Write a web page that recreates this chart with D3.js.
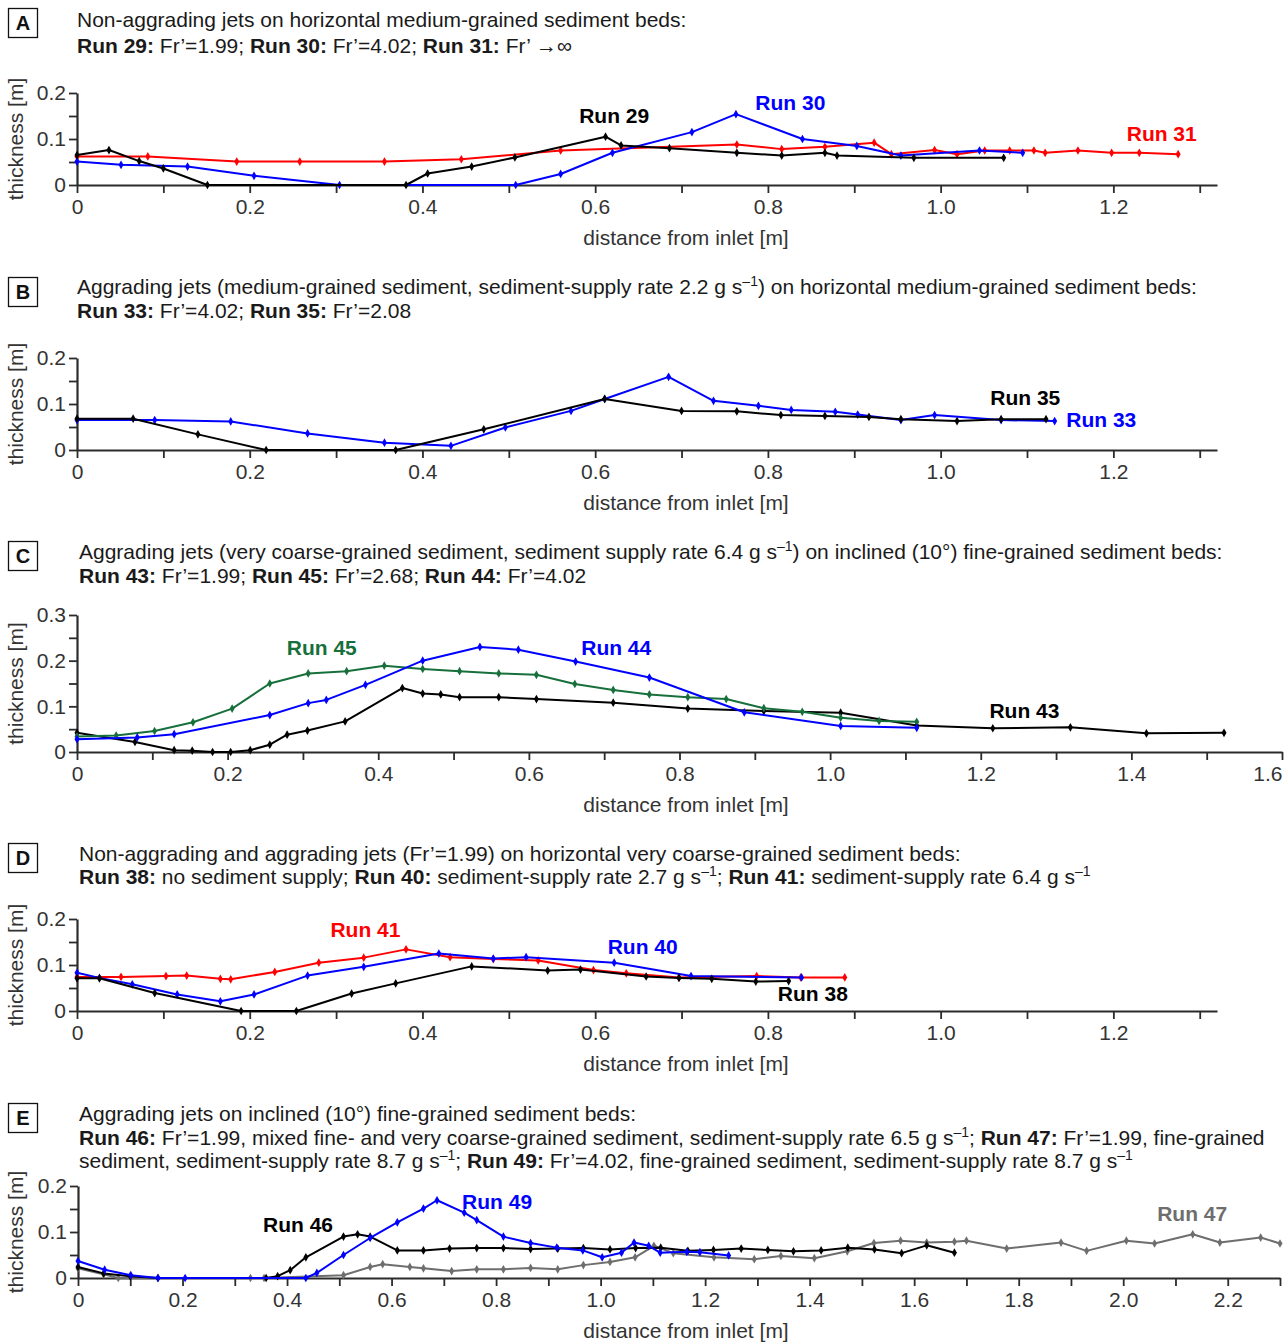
<!DOCTYPE html>
<html>
<head>
<meta charset="utf-8">
<script src="https://cdnjs.cloudflare.com/ajax/libs/d3/7.8.5/d3.min.js"></script>
<style>
  body { margin: 0; background: #fff; }
  svg { display: block; font-family: "Liberation Sans", Arial, sans-serif; }
</style>
</head>
<body>
<div id="chart"></div>
<script>
// ---- data: [distance from inlet (m), thickness (m)] ----
// panel A
const run29 = [[0,0.065],[0.037,0.076],[0.072,0.052],[0.1,0.036],[0.151,0],[0.381,0],[0.406,0.025],[0.457,0.04],[0.507,0.06],[0.612,0.105],[0.63,0.086],[0.686,0.08],[0.764,0.07],[0.816,0.064],[0.866,0.07],[0.88,0.064],[0.969,0.059],[1.073,0.059]];
const run30 = [[0,0.051],[0.051,0.044],[0.128,0.04],[0.205,0.02],[0.304,0],[0.508,0],[0.56,0.024],[0.62,0.07],[0.712,0.115],[0.763,0.154],[0.84,0.1],[0.903,0.085],[0.954,0.064],[1.045,0.075],[1.095,0.07]];
const run31 = [[0,0.062],[0.082,0.062],[0.185,0.051],[0.258,0.051],[0.356,0.051],[0.445,0.056],[0.56,0.075],[0.764,0.088],[0.816,0.078],[0.866,0.083],[0.923,0.092],[0.943,0.067],[0.993,0.076],[1.019,0.067],[1.051,0.075],[1.08,0.075],[1.108,0.075],[1.121,0.07],[1.159,0.075],[1.198,0.07],[1.23,0.07],[1.275,0.067]];
// panel B
const run33 = [[0,0.065],[0.09,0.065],[0.178,0.062],[0.267,0.036],[0.356,0.016],[0.433,0.009],[0.496,0.049],[0.572,0.085],[0.611,0.111],[0.685,0.159],[0.737,0.107],[0.789,0.096],[0.827,0.087],[0.878,0.083],[0.904,0.077],[0.954,0.065],[0.993,0.076],[1.07,0.065],[1.132,0.063]];
const run35 = [[0,0.068],[0.065,0.068],[0.14,0.034],[0.219,0],[0.369,0],[0.471,0.045],[0.611,0.111],[0.7,0.085],[0.764,0.084],[0.815,0.076],[0.866,0.074],[0.917,0.072],[0.954,0.067],[1.019,0.063],[1.07,0.067],[1.122,0.067]];
// panel C
const run43 = [[0,0.042],[0.077,0.022],[0.129,0.004],[0.153,0.003],[0.18,0],[0.204,0],[0.23,0.004],[0.256,0.016],[0.279,0.038],[0.306,0.047],[0.356,0.067],[0.432,0.14],[0.459,0.128],[0.483,0.126],[0.508,0.12],[0.56,0.12],[0.61,0.116],[0.712,0.108],[0.811,0.095],[0.912,0.09],[1.014,0.086],[1.115,0.058],[1.216,0.052],[1.319,0.054],[1.42,0.041],[1.523,0.042]];
const run44 = [[0,0.028],[0.08,0.032],[0.129,0.039],[0.256,0.081],[0.307,0.107],[0.331,0.114],[0.383,0.147],[0.459,0.2],[0.535,0.23],[0.586,0.224],[0.662,0.198],[0.76,0.163],[0.886,0.087],[1.014,0.057],[1.115,0.053]];
const run45 = [[0,0.034],[0.052,0.036],[0.103,0.046],[0.154,0.065],[0.206,0.095],[0.256,0.15],[0.307,0.172],[0.358,0.177],[0.408,0.189],[0.459,0.182],[0.508,0.177],[0.56,0.172],[0.61,0.169],[0.661,0.149],[0.712,0.136],[0.76,0.126],[0.811,0.12],[0.862,0.116],[0.912,0.096],[0.963,0.088],[1.014,0.075],[1.065,0.068],[1.115,0.066]];
// panel D
const run38 = [[0,0.071],[0.026,0.071],[0.09,0.039],[0.19,0],[0.254,0],[0.318,0.038],[0.369,0.06],[0.457,0.097],[0.545,0.088],[0.583,0.09],[0.659,0.075],[0.697,0.072],[0.735,0.07],[0.786,0.064],[0.824,0.065]];
const run40 = [[0,0.083],[0.026,0.072],[0.064,0.058],[0.116,0.036],[0.166,0.021],[0.205,0.036],[0.267,0.077],[0.332,0.096],[0.419,0.125],[0.482,0.114],[0.52,0.117],[0.622,0.105],[0.711,0.076],[0.839,0.073]];
const run41 = [[0,0.074],[0.051,0.074],[0.103,0.076],[0.127,0.077],[0.166,0.07],[0.178,0.069],[0.229,0.085],[0.28,0.105],[0.332,0.116],[0.381,0.134],[0.432,0.117],[0.482,0.113],[0.534,0.11],[0.598,0.089],[0.636,0.082],[0.697,0.073],[0.787,0.076],[0.838,0.073],[0.889,0.073]];
// panel E
const run46 = [[0,0.024],[0.049,0.01],[0.1,0.004],[0.153,0],[0.36,0],[0.382,0.004],[0.406,0.017],[0.436,0.045],[0.508,0.09],[0.535,0.095],[0.559,0.09],[0.611,0.06],[0.661,0.06],[0.711,0.064],[0.763,0.065],[0.814,0.065],[0.866,0.063],[0.918,0.064],[0.967,0.065],[1.018,0.062],[1.067,0.065],[1.115,0.066],[1.167,0.059],[1.216,0.061],[1.269,0.064],[1.32,0.061],[1.369,0.058],[1.422,0.06],[1.473,0.066],[1.524,0.062],[1.576,0.054],[1.624,0.071],[1.677,0.055]];
const run47 = [[0,0.021],[0.049,0.008],[0.077,0],[0.33,0],[0.356,0],[0.508,0.006],[0.559,0.024],[0.583,0.03],[0.635,0.024],[0.661,0.021],[0.715,0.015],[0.763,0.019],[0.814,0.019],[0.866,0.022],[0.918,0.019],[0.967,0.028],[1.018,0.035],[1.066,0.045],[1.102,0.07],[1.139,0.054],[1.217,0.045],[1.294,0.041],[1.345,0.048],[1.409,0.043],[1.472,0.058],[1.523,0.076],[1.574,0.081],[1.624,0.077],[1.677,0.079],[1.7,0.081],[1.777,0.064],[1.881,0.077],[1.93,0.059],[2.006,0.081],[2.06,0.075],[2.133,0.095],[2.185,0.077],[2.263,0.088],[2.3,0.075]];
const run49 = [[0,0.037],[0.051,0.018],[0.101,0.006],[0.153,0],[0.205,0],[0.436,0],[0.457,0.011],[0.508,0.05],[0.559,0.087],[0.611,0.121],[0.661,0.151],[0.687,0.169],[0.739,0.142],[0.763,0.126],[0.814,0.09],[0.866,0.076],[0.916,0.066],[0.966,0.06],[1.003,0.045],[1.04,0.055],[1.064,0.077],[1.092,0.07],[1.114,0.055],[1.165,0.057],[1.19,0.056],[1.245,0.049]];

// colours
const BLUE = "#0000ff", RED = "#ff0000", BLACK = "#000000", GREEN = "#17703c", GREY = "#6e6e6e";

const FS = 21; // main font size

// panels: layout + which runs go where
const panels = [
  {
    letter: "A", boxY: 8, titleX: 77, titleY: [27, 53],
    lines: [
      [{ t: "Non-aggrading jets on horizontal medium-grained sediment beds:" }],
      [{ t: "Run 29:", b: 1 }, { t: " Fr’=1.99; " }, { t: "Run 30:", b: 1 }, { t: " Fr’=4.02; " }, { t: "Run 31:", b: 1 }, { t: " Fr’ →∞" }]
    ],
    left: 77, right: 1217, xMax: 1.32, xTicks: 13, bottom: 185, top: 93, yMax: 0.2,
    series: [[run31, RED], [run30, BLUE], [run29, BLACK]],
    labels: [["Run 29", BLACK, 0.622, 0.15], ["Run 30", BLUE, 0.826, 0.18], ["Run 31", RED, 1.256, 0.111]]
  },
  {
    letter: "B", boxY: 277, titleX: 77, titleY: [294, 318],
    lines: [
      [{ t: "Aggrading jets (medium-grained sediment, sediment-supply rate 2.2 g s" }, { t: "–1", sup: 1 }, { t: ") on horizontal medium-grained sediment beds:" }],
      [{ t: "Run 33:", b: 1 }, { t: " Fr’=4.02; " }, { t: "Run 35:", b: 1 }, { t: " Fr’=2.08" }]
    ],
    left: 77, right: 1217, xMax: 1.32, xTicks: 13, bottom: 450, top: 358, yMax: 0.2,
    series: [[run33, BLUE], [run35, BLACK]],
    labels: [["Run 35", BLACK, 1.098, 0.113], ["Run 33", BLUE, 1.186, 0.067]]
  },
  {
    letter: "C", boxY: 541, titleX: 79, titleY: [559, 583],
    lines: [
      [{ t: "Aggrading jets (very coarse-grained sediment, sediment supply rate 6.4 g s" }, { t: "–1", sup: 1 }, { t: ") on inclined (10°) fine-grained sediment beds:" }],
      [{ t: "Run 43:", b: 1 }, { t: " Fr’=1.99; " }, { t: "Run 45:", b: 1 }, { t: " Fr’=2.68; " }, { t: "Run 44:", b: 1 }, { t: " Fr’=4.02" }]
    ],
    left: 77, right: 1282, xMax: 1.6, xTicks: 16, bottom: 752, top: 615, yMax: 0.3,
    series: [[run43, BLACK], [run45, GREEN], [run44, BLUE]],
    labels: [["Run 45", GREEN, 0.325, 0.228], ["Run 44", BLUE, 0.716, 0.228], ["Run 43", BLACK, 1.258, 0.09]]
  },
  {
    letter: "D", boxY: 843, titleX: 79, titleY: [861, 884],
    lines: [
      [{ t: "Non-aggrading and aggrading jets (Fr’=1.99) on horizontal very coarse-grained sediment beds:" }],
      [{ t: "Run 38:", b: 1 }, { t: " no sediment supply; " }, { t: "Run 40:", b: 1 }, { t: " sediment-supply rate 2.7 g s" }, { t: "–1", sup: 1 }, { t: "; " }, { t: "Run 41:", b: 1 }, { t: " sediment-supply rate 6.4 g s" }, { t: "–1", sup: 1 }]
    ],
    left: 77, right: 1217, xMax: 1.32, xTicks: 13, bottom: 1011, top: 919, yMax: 0.2,
    series: [[run41, RED], [run40, BLUE], [run38, BLACK]],
    labels: [["Run 41", RED, 0.334, 0.176], ["Run 40", BLUE, 0.655, 0.139], ["Run 38", BLACK, 0.852, 0.037]]
  },
  {
    letter: "E", boxY: 1103, titleX: 79, titleY: [1121, 1145, 1168],
    lines: [
      [{ t: "Aggrading jets on inclined (10°) fine-grained sediment beds:" }],
      [{ t: "Run 46:", b: 1 }, { t: " Fr’=1.99, mixed fine- and very coarse-grained sediment, sediment-supply rate 6.5 g s" }, { t: "–1", sup: 1 }, { t: "; " }, { t: "Run 47:", b: 1 }, { t: " Fr’=1.99, fine-grained" }],
      [{ t: "sediment, sediment-supply rate 8.7 g s" }, { t: "–1", sup: 1 }, { t: "; " }, { t: "Run 49:", b: 1 }, { t: " Fr’=4.02, fine-grained sediment, sediment-supply rate 8.7 g s" }, { t: "–1", sup: 1 }]
    ],
    left: 78, right: 1280, xMax: 2.3, xTicks: 23, bottom: 1278, top: 1186, yMax: 0.2,
    series: [[run47, GREY], [run46, BLACK], [run49, BLUE]],
    labels: [["Run 46", BLACK, 0.421, 0.115], ["Run 49", BLUE, 0.802, 0.167], ["Run 47", GREY, 2.132, 0.139]]
  }
];

const W = 1288, H = 1344;
const svg = d3.select("#chart").append("svg").attr("width", W).attr("height", H);

function drawPanel(p) {
  const g = svg.append("g");

  // letter box
  g.append("rect").attr("x", 8.5).attr("y", p.boxY + 0.5).attr("width", 29).attr("height", 29)
    .attr("fill", "none").attr("stroke", "#111").attr("stroke-width", 1.3);
  g.append("text").attr("x", 23).attr("y", p.boxY + 22).attr("text-anchor", "middle")
    .attr("font-size", 20).attr("font-weight", "bold").attr("fill", "#111").text(p.letter);

  // title lines
  p.lines.forEach((segs, li) => {
    const t = g.append("text").attr("x", p.titleX).attr("y", p.titleY[li])
      .attr("font-size", FS).attr("fill", "#1a1a1a");
    segs.forEach(s => {
      const ts = t.append("tspan").text(s.t);
      if (s.b) ts.attr("font-weight", "bold");
      if (s.sup) ts.attr("font-size", 14).attr("baseline-shift", "super");
    });
  });

  const x = d3.scaleLinear().domain([0, p.xMax]).range([p.left, p.right]);
  const y = d3.scaleLinear().domain([0, p.yMax]).range([p.bottom, p.top]);

  // x axis: ticks every 0.1, labels every 0.2
  const xVals = d3.range(0, p.xTicks + 1).map(i => i / 10);
  const xAxis = g.append("g").attr("transform", `translate(0,${p.bottom})`)
    .call(d3.axisBottom(x).tickValues(xVals).tickSize(8).tickSizeOuter(0).tickPadding(6)
      .tickFormat((d, i) => (i % 2 ? "" : (i === 0 ? "0" : d3.format(".1f")(d)))));

  // y axis: ticks every 0.05, labels every 0.1
  const yVals = d3.range(0, Math.round(p.yMax * 20) + 1).map(i => i / 20);
  const yAxis = g.append("g").attr("transform", `translate(${p.left},0)`)
    .call(d3.axisLeft(y).tickValues(yVals).tickSize(8).tickSizeOuter(0).tickPadding(3)
      .tickFormat((d, i) => (i % 2 ? "" : (i === 0 ? "0" : d3.format(".1f")(d)))));

  [xAxis, yAxis].forEach(a => {
    a.select(".domain").attr("stroke", "#2b2b2b").attr("stroke-width", 2.2);
    a.selectAll(".tick line").attr("stroke", "#2b2b2b").attr("stroke-width", 1.8);
    a.selectAll(".tick text").attr("font-size", FS).attr("fill", "#333")
      .attr("font-family", "Liberation Sans, Arial, sans-serif");
  });
  // keep the last x label inside the page
  xAxis.selectAll(".tick text").each(function () {
    const b = this.getBBox();
    const m = this.parentNode.transform.baseVal.consolidate().matrix.e;
    if (m + b.x + b.width > W - 4) d3.select(this).attr("text-anchor", "end").attr("x", 0);
  });

  // axis titles
  g.append("text").attr("x", 686).attr("y", p.bottom + 60).attr("text-anchor", "middle")
    .attr("font-size", FS).attr("fill", "#333").text("distance from inlet [m]");
  g.append("text").attr("transform", `translate(23,${(p.top + p.bottom) / 2}) rotate(-90)`)
    .attr("text-anchor", "middle").attr("font-size", FS).attr("fill", "#333").text("thickness [m]");

  // series
  const line = d3.line().x(d => x(d[0])).y(d => y(d[1]));
  const sym = d3.symbol().type(d3.symbolDiamond).size(22);
  p.series.forEach(([data, colour]) => {
    g.append("path").datum(data).attr("d", line).attr("fill", "none")
      .attr("stroke", colour).attr("stroke-width", 2).attr("stroke-linejoin", "round");
    g.append("g").selectAll("path").data(data).enter().append("path")
      .attr("transform", d => `translate(${x(d[0])},${y(d[1])})`)
      .attr("d", sym).attr("fill", colour);
  });

  // run labels
  p.labels.forEach(([txt, colour, lx, ly]) => {
    g.append("text").attr("x", x(lx)).attr("y", y(ly)).attr("dy", "0.35em")
      .attr("text-anchor", "middle").attr("font-size", FS).attr("font-weight", "bold")
      .attr("fill", colour).text(txt);
  });
}

panels.forEach(drawPanel);
</script>
</body>
</html>
